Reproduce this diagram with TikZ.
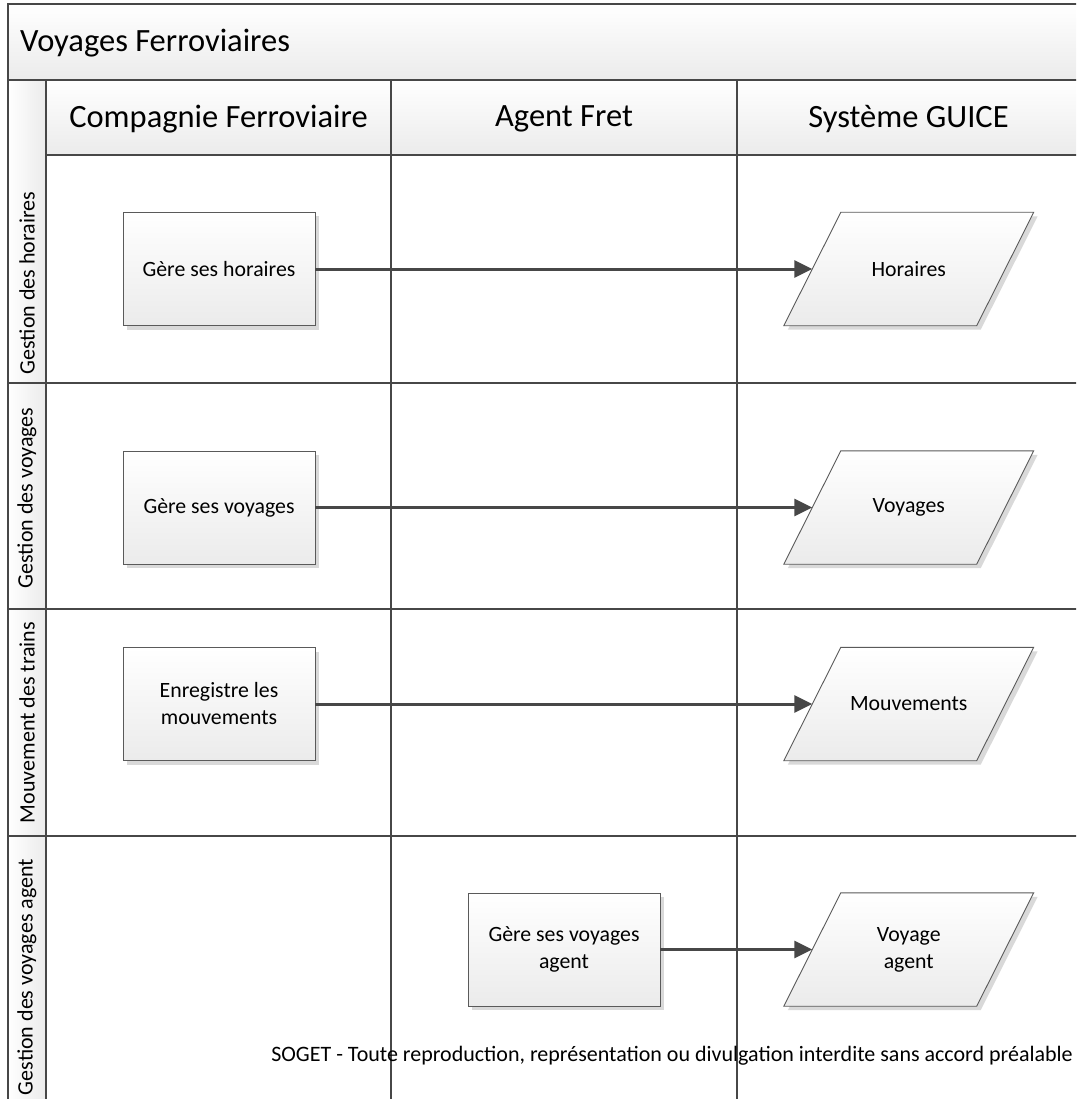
\documentclass[tikz,border=0pt]{standalone}
\usepackage{fontspec}
\setmainfont{Carlito}
\usetikzlibrary{arrows.meta,shadows,calc,backgrounds}
\definecolor{gridline}{HTML}{474747}
\definecolor{boxline}{HTML}{5A5A5A}
\definecolor{shadegray}{HTML}{EBEBEB}
\definecolor{shadowgray}{HTML}{D9D9D9}
\newcommand\drawdataframe[1]{%
  \path[datafill]
    ($(#1.north west)+(28.5,0)$) -- ($(#1.north east)+(28.5,0)$) --
    ($(#1.south east)+(-28.5,0)$) -- ($(#1.south west)+(-28.5,0)$) -- cycle;}
\begin{document}
\begin{tikzpicture}[x=1pt,y=-1pt,
  grid/.style={draw=gridline, line width=2.2pt},
  band/.style={top color=white, bottom color=shadegray},
  bigtext/.style={font=\fontsize{32.5}{38}\selectfont, inner sep=0pt},
  lanetext/.style={font=\fontsize{22}{26}\selectfont, rotate=90, inner sep=0pt},
  procbox/.style={draw=boxline, line width=0.9pt, top color=white, bottom color=shadegray,
    minimum width=192pt, minimum height=113pt, align=center, inner sep=2pt,
    font=\fontsize{21.8}{27}\selectfont,
    drop shadow={shadow xshift=4pt, shadow yshift=-4pt, fill=shadowgray, opacity=1}},
  datanode/.style={minimum width=192.5pt, minimum height=113pt, align=center, inner sep=2pt,
    font=\fontsize{21.8}{27}\selectfont},
  datafill/.style={draw=boxline, line width=0.9pt, top color=white, bottom color=shadegray,
    drop shadow={shadow xshift=4pt, shadow yshift=-4pt, fill=shadowgray, opacity=1}},
  flow/.style={draw=gridline, line width=3pt, -{Triangle[length=18pt,width=17pt]}},
  footnote/.style={font=\fontsize{22}{26}\selectfont, inner sep=0pt}
]
\useasboundingbox (0,0) rectangle (1076,1099);
\clip (0,0) rectangle (1076,1099);

% shaded title band, header band and lane label column
\path[band] (8,4) rectangle (1090,80);
\path[band] (46,80) rectangle (1090,155);
\path[left color=white, right color=shadegray] (8,80) rectangle (46,1110);

% pool grid
\draw[grid] (1090,4) -- (8,4) -- (8,1110);
\draw[grid] (8,80) -- (1090,80);
\draw[grid] (46,80) -- (46,1110);
\draw[grid] (46,155) -- (1090,155);
\draw[grid] (391,80) -- (391,1110);
\draw[grid] (737,80) -- (737,1110);
\draw[grid] (8,383) -- (1090,383);
\draw[grid] (8,609) -- (1090,609);
\draw[grid] (8,836) -- (1090,836);

% titles
\node[bigtext, anchor=west] (title) at (20,43) {Voyages Ferroviaires};
\node[bigtext] (colA) at (218.5,119) {Compagnie Ferroviaire};
\node[bigtext] (colB) at (564,119) {Agent Fret};
\node[bigtext] (colC) at (908.5,119) {Système GUICE};

\node[lanetext] (laneA) at (27,283) {Gestion des horaires};
\node[lanetext] (laneB) at (27,498) {Gestion des voyages};
\node[lanetext] (laneC) at (27,722.5) {Mouvement des trains};
\node[lanetext] (laneD) at (27,977) {Gestion des voyages agent};

% activities
\node[procbox] (b1) at (219,269) {Gère ses horaires};
\node[procbox] (b2) at (219,507.5) {Gère ses voyages};
\node[procbox] (b3) at (219,704) {Enregistre les\\mouvements};
\node[procbox] (b4) at (564,949.5) {Gère ses voyages\\agent};

% data stores
\node[datanode] (d1) at (908.75,269) {Horaires};
\node[datanode] (d2) at (908.75,507.5) {Voyages};
\node[datanode] (d3) at (908.75,704) {Mouvements};
\node[datanode] (d4) at (908.75,949.5) {Voyage\\agent};
\begin{pgfonlayer}{background}
  \foreach \n in {d1,d2,d3,d4} {\drawdataframe{\n}}
\end{pgfonlayer}

% flows
\draw[flow] (b1.east) -- (d1.west);
\draw[flow] (b2.east) -- (d2.west);
\draw[flow] (b3.east) -- (d3.west);
\draw[flow] (b4.east) -- (d4.west);

\node[footnote, anchor=east] (note) at (1073,1056) {SOGET - Toute reproduction, représentation ou divulgation interdite sans accord préalable};
\end{tikzpicture}
\end{document}
